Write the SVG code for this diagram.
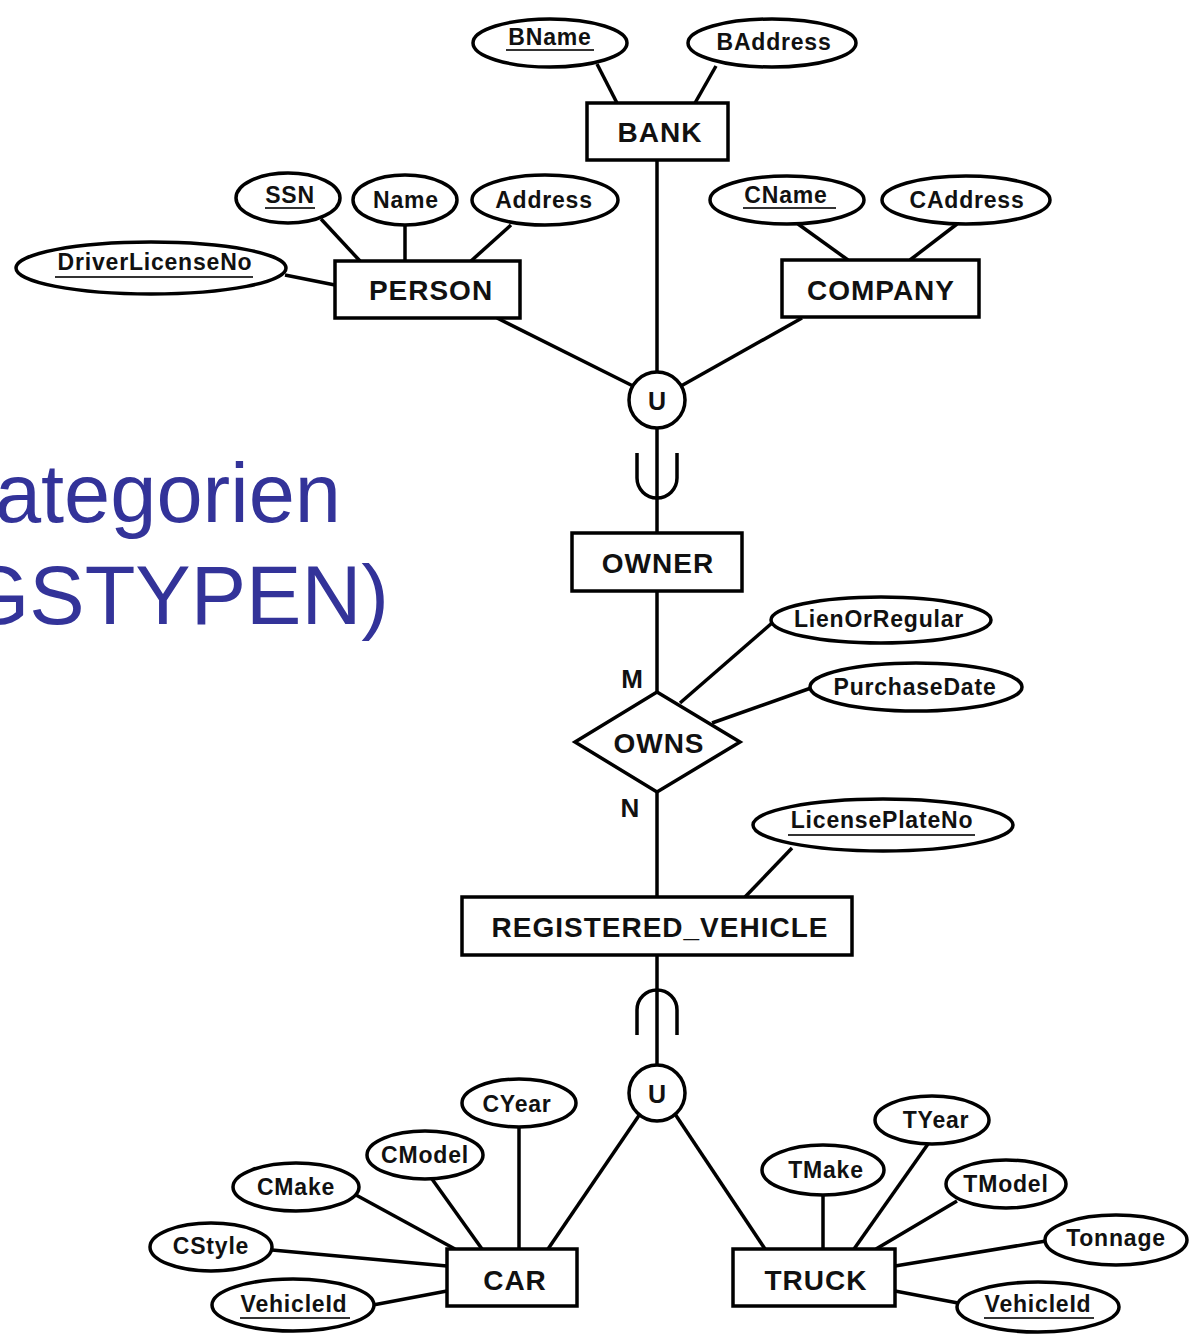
<svg xmlns="http://www.w3.org/2000/svg" width="1194" height="1335" viewBox="0 0 1194 1335">
<style>
.ln{stroke:#000;stroke-width:3.5;fill:none;stroke-linecap:butt}
.ent rect{fill:#fff;stroke:#000;stroke-width:3.5}
.att ellipse{fill:#fff;stroke:#000;stroke-width:3.5}
.rel polygon{fill:#fff;stroke:#000;stroke-width:3.5}
.un circle{fill:#fff;stroke:#000;stroke-width:3.5}
.et{font-family:"Liberation Sans",Arial,sans-serif;font-weight:bold;font-size:28px;letter-spacing:1px;fill:#111;text-anchor:middle}
.at{font-family:"Liberation Sans",Arial,sans-serif;font-weight:bold;font-size:23px;letter-spacing:0.8px;fill:#111;text-anchor:middle}
.ul{stroke:#333;stroke-width:2}
.title{font-family:"Liberation Sans",Arial,sans-serif;font-size:83px;fill:#333399;text-anchor:end}
</style>
<rect width="1194" height="1335" fill="#fff"/>
<g id="title">
<text class="title" x="341" y="522">ategorien</text>
<text class="title" x="389" y="624">GSTYPEN)</text>
</g>
<g id="connectors">
<line class="ln" x1="597" y1="64" x2="617" y2="103"/>
<line class="ln" x1="716" y1="66" x2="695" y2="103"/>
<line class="ln" x1="657" y1="160" x2="657" y2="372"/>
<line class="ln" x1="321" y1="219" x2="360" y2="261"/>
<line class="ln" x1="405" y1="225" x2="405" y2="261"/>
<line class="ln" x1="511" y1="225" x2="471" y2="261"/>
<line class="ln" x1="285" y1="275" x2="335" y2="285"/>
<line class="ln" x1="798" y1="224" x2="848" y2="260"/>
<line class="ln" x1="957" y1="224" x2="910" y2="260"/>
<line class="ln" x1="497" y1="318" x2="633" y2="386"/>
<line class="ln" x1="802" y1="318" x2="681" y2="386"/>
<line class="ln" x1="657" y1="428" x2="657" y2="533"/>
<path class="ln" d="M637,453 V478 A20,20 0 0 0 677,478 V453"/>
<line class="ln" x1="657" y1="591" x2="657" y2="692"/>
<line class="ln" x1="680" y1="703" x2="772" y2="623"/>
<line class="ln" x1="712" y1="723" x2="811" y2="688"/>
<line class="ln" x1="657" y1="792" x2="657" y2="897"/>
<line class="ln" x1="745" y1="897" x2="792" y2="848"/>
<line class="ln" x1="657" y1="955" x2="657" y2="1065"/>
<path class="ln" d="M637,1035 V1010 A20,20 0 0 1 677,1010 V1035"/>
<line class="ln" x1="640" y1="1114" x2="548" y2="1249"/>
<line class="ln" x1="675" y1="1114" x2="765" y2="1249"/>
<line class="ln" x1="519" y1="1127" x2="519" y2="1249"/>
<line class="ln" x1="432" y1="1179" x2="482" y2="1249"/>
<line class="ln" x1="356" y1="1195" x2="455" y2="1249"/>
<line class="ln" x1="272" y1="1250" x2="447" y2="1266"/>
<line class="ln" x1="373" y1="1305" x2="447" y2="1291"/>
<line class="ln" x1="823" y1="1195" x2="823" y2="1249"/>
<line class="ln" x1="928" y1="1144" x2="854" y2="1249"/>
<line class="ln" x1="957" y1="1201" x2="876" y2="1249"/>
<line class="ln" x1="1046" y1="1241" x2="895" y2="1266"/>
<line class="ln" x1="958" y1="1303" x2="895" y2="1291"/>
<text class="et" x="632" y="688" style="font-size:26px;letter-spacing:0">M</text>
<text class="et" x="630" y="817" style="font-size:26px;letter-spacing:0">N</text>
</g>
<g id="BANK" class="ent"><rect x="587" y="103" width="141" height="57"/><text class="et" x="660" y="142">BANK</text></g>
<g id="PERSON" class="ent"><rect x="335" y="261" width="185" height="57"/><text class="et" x="431" y="300">PERSON</text></g>
<g id="COMPANY" class="ent"><rect x="782" y="260" width="197" height="57"/><text class="et" x="881" y="300">COMPANY</text></g>
<g id="OWNER" class="ent"><rect x="572" y="533" width="170" height="58"/><text class="et" x="658" y="573">OWNER</text></g>
<g id="REGISTERED_VEHICLE" class="ent"><rect x="462" y="897" width="390" height="58"/><text class="et" x="660" y="937">REGISTERED_VEHICLE</text></g>
<g id="CAR" class="ent"><rect x="447" y="1249" width="130" height="57"/><text class="et" x="515" y="1290">CAR</text></g>
<g id="TRUCK" class="ent"><rect x="733" y="1249" width="162" height="57"/><text class="et" x="816" y="1290">TRUCK</text></g>
<g id="OWNS" class="rel"><polygon points="657,692 740,742 657,792 575,742"/><text class="et" x="659" y="753">OWNS</text></g>
<g id="U1" class="un"><circle cx="657" cy="400" r="28"/><text class="et" x="657" y="410" style="font-size:25px;letter-spacing:0">U</text></g>
<g id="U2" class="un"><circle cx="657" cy="1093" r="28"/><text class="et" x="657" y="1103" style="font-size:25px;letter-spacing:0">U</text></g>
<g id="BName" class="att"><ellipse cx="550" cy="43" rx="77" ry="24"/><text class="at" x="550" y="45">BName</text><line class="ul" x1="506" y1="50" x2="594" y2="50"/></g>
<g id="BAddress" class="att"><ellipse cx="772" cy="43" rx="84" ry="24"/><text class="at" x="774" y="50">BAddress</text></g>
<g id="SSN" class="att"><ellipse cx="288" cy="198" rx="52" ry="25"/><text class="at" x="290" y="203">SSN</text><line class="ul" x1="265" y1="208" x2="315" y2="208"/></g>
<g id="Name" class="att"><ellipse cx="405" cy="200" rx="52" ry="25"/><text class="at" x="406" y="208">Name</text></g>
<g id="Address" class="att"><ellipse cx="545" cy="200" rx="73" ry="25"/><text class="at" x="544" y="208">Address</text></g>
<g id="DriverLicenseNo" class="att"><ellipse cx="151" cy="268" rx="135" ry="26"/><text class="at" x="155" y="270">DriverLicenseNo</text><line class="ul" x1="55" y1="277" x2="253" y2="277"/></g>
<g id="CName" class="att"><ellipse cx="787" cy="200" rx="77" ry="24"/><text class="at" x="786" y="203">CName</text><line class="ul" x1="743" y1="208" x2="836" y2="208"/></g>
<g id="CAddress" class="att"><ellipse cx="966" cy="200" rx="84" ry="24"/><text class="at" x="967" y="208">CAddress</text></g>
<g id="LienOrRegular" class="att"><ellipse cx="881" cy="620" rx="110" ry="23"/><text class="at" x="879" y="627">LienOrRegular</text></g>
<g id="PurchaseDate" class="att"><ellipse cx="916" cy="687" rx="106" ry="24"/><text class="at" x="915" y="695">PurchaseDate</text></g>
<g id="LicensePlateNo" class="att"><ellipse cx="883" cy="825" rx="130" ry="26"/><text class="at" x="882" y="828">LicensePlateNo</text><line class="ul" x1="788" y1="835" x2="975" y2="835"/></g>
<g id="CYear" class="att"><ellipse cx="519" cy="1103" rx="57" ry="24"/><text class="at" x="517" y="1112">CYear</text></g>
<g id="CModel" class="att"><ellipse cx="425" cy="1155" rx="58" ry="24"/><text class="at" x="425" y="1163">CModel</text></g>
<g id="CMake" class="att"><ellipse cx="296" cy="1187" rx="63" ry="24"/><text class="at" x="296" y="1195">CMake</text></g>
<g id="CStyle" class="att"><ellipse cx="211" cy="1247" rx="61" ry="24"/><text class="at" x="211" y="1254">CStyle</text></g>
<g id="CarVehicleId" class="att"><ellipse cx="293" cy="1305" rx="81" ry="26"/><text class="at" x="294" y="1312">VehicleId</text><line class="ul" x1="240" y1="1318" x2="350" y2="1318"/></g>
<g id="TMake" class="att"><ellipse cx="823" cy="1170" rx="61" ry="25"/><text class="at" x="826" y="1178">TMake</text></g>
<g id="TYear" class="att"><ellipse cx="932" cy="1120" rx="57" ry="24"/><text class="at" x="936" y="1128">TYear</text></g>
<g id="TModel" class="att"><ellipse cx="1006" cy="1184" rx="60" ry="24"/><text class="at" x="1006" y="1192">TModel</text></g>
<g id="Tonnage" class="att"><ellipse cx="1116" cy="1240" rx="71" ry="25"/><text class="at" x="1116" y="1246">Tonnage</text></g>
<g id="TruckVehicleId" class="att"><ellipse cx="1038" cy="1307" rx="81" ry="25"/><text class="at" x="1038" y="1312">VehicleId</text><line class="ul" x1="984" y1="1318" x2="1094" y2="1318"/></g>
</svg>
